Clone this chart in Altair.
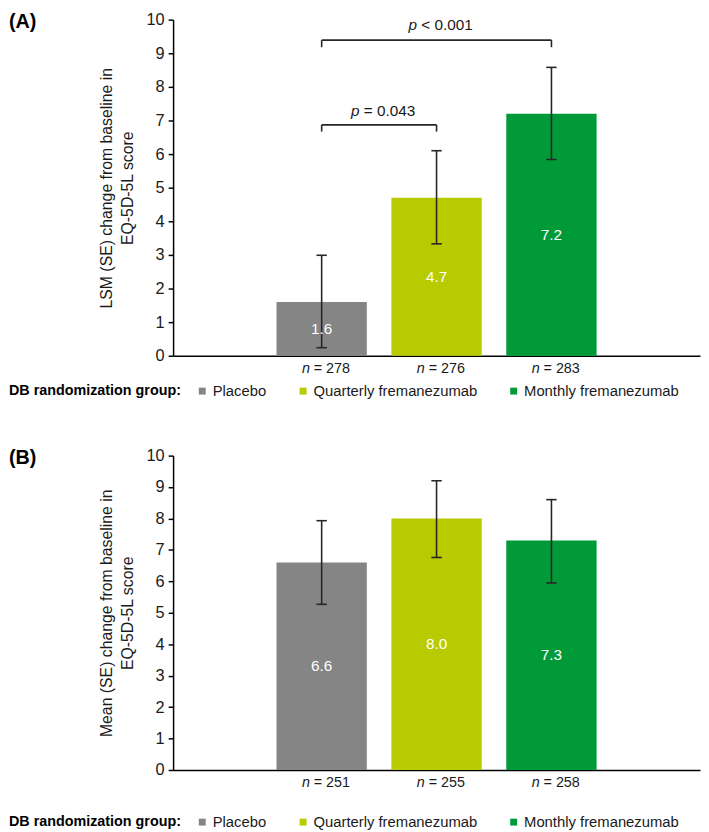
import altair as alt
import pandas as pd

FONT = "Liberation Sans"
INK = "#1a1a1a"

# ---------------- data ----------------
groups = ["Placebo", "Quarterly fremanezumab", "Monthly fremanezumab"]
colors = ["#858585", "#b8ca00", "#009a38"]

a_values = [1.6, 4.7, 7.2]
a_lo = [0.24, 3.33, 5.84]
a_hi = [2.99, 6.10, 8.58]
a_n = [278, 276, 283]
a_ylabel = ["LSM (SE) change from baseline in", "EQ-5D-5L score"]

b_values = [6.6, 8.0, 7.3]
b_lo = [5.27, 6.76, 5.95]
b_hi = [7.93, 9.20, 8.60]
b_n = [251, 255, 258]
b_ylabel = ["Mean (SE) change from baseline in", "EQ-5D-5L score"]

# significance brackets (panel A)
p_text = ["= 0.043", "< 0.001"]
p_from = [0, 0]
p_to = [1, 2]
p_level = [6.87, 9.39]
p_drop = [0.2, 0.21]
p_text_y = [7.12, 9.68]

legend_title = "DB randomization group:"

# ---------------- layout constants ----------------
W = 533
X_MAX = 4.5
OFFSET = 1.25
HALF = 0.393
CAP = 0.045

xs = alt.Scale(domain=[0, X_MAX], nice=False, zero=False)
ys = alt.Scale(domain=[0, 10], nice=False)
x_axis = alt.Axis(labels=False, ticks=False, title=None, grid=False,
                  domainColor="black", domainWidth=1.5)


def y_axis(title):
    return alt.Axis(values=list(range(11)), title=title, grid=False,
                    domainColor="black", domainWidth=1.5, tickColor="black",
                    tickWidth=1.5, tickSize=5, labelFontSize=16.5, labelColor=INK,
                    labelPadding=4, labelFont=FONT, titleFont=FONT, titleFontSize=16,
                    titleFontWeight="normal", titleColor=INK, titlePadding=11,
                    titleLineHeight=21, format="d")


def X(field):
    return alt.X(field, type="quantitative", scale=xs, axis=x_axis)


def Y(field, title):
    return alt.Y(field, type="quantitative", scale=ys, axis=y_axis(title))


def panel(tag, values, lo, hi, ns, ylabel, height, legend_y, brackets=False):
    pos = [i + OFFSET for i in range(len(groups))]
    df = pd.DataFrame({
        "group": groups, "pos": pos, "value": values, "lo": lo, "hi": hi,
        "left": [p - HALF for p in pos], "right": [p + HALF for p in pos],
        "capL": [p - CAP for p in pos], "capR": [p + CAP for p in pos],
        "mid": [v / 2 for v in values],
        "label": [f"{v:.1f}" for v in values],
        "n": ["n"] * len(ns),
        "neq": [f"= {n}" for n in ns],
    })
    base = alt.Chart(df)
    legend = alt.Legend(
        orient="none", legendX=-166, legendY=legend_y, direction="horizontal",
        title=legend_title, titleOrient="left", titleFont=FONT, titleFontSize=14.5,
        titleFontWeight="bold", titleColor="black", titlePadding=14, titleLimit=400,
        titleBaseline="middle", titleAnchor="middle",
        labelFont=FONT, labelFontSize=15, labelColor=INK, labelLimit=400,
        labelOffset=3, symbolType="square", symbolSize=49, symbolStrokeWidth=0,
        columnPadding=29,
    )
    bars = base.mark_bar(orient="vertical").encode(
        x=X("left"), x2="right", y=Y("value", ylabel), y2=alt.datum(0),
        color=alt.Color("group:N", scale=alt.Scale(domain=groups, range=colors),
                        legend=legend),
    )
    err = base.mark_rule(color="#262626", strokeWidth=1.6).encode(
        x=X("pos"), y=Y("lo", ylabel), y2="hi")
    cap_hi = base.mark_rule(color="#262626", strokeWidth=1.6).encode(
        x=X("capL"), x2="capR", y=Y("hi", ylabel))
    cap_lo = base.mark_rule(color="#262626", strokeWidth=1.6).encode(
        x=X("capL"), x2="capR", y=Y("lo", ylabel))
    vlab = base.mark_text(color="white", font=FONT, fontSize=15.5).encode(
        x=X("pos"), y=Y("mid", ylabel), text="label:N")
    n_it = base.mark_text(font=FONT, fontSize=14.5, fontStyle="italic", color=INK,
                          align="left", baseline="middle", dx=-20).encode(
        x=X("pos"), y=alt.value(height + 13), text="n:N")
    n_rest = base.mark_text(font=FONT, fontSize=14.5, color=INK, align="left",
                            baseline="middle", dx=-8).encode(
        x=X("pos"), y=alt.value(height + 13), text="neq:N")
    tag_df = pd.DataFrame({"t": [tag]})
    tag_mark = alt.Chart(tag_df).mark_text(
        font=FONT, fontSize=20, fontWeight="bold", color="black",
        align="left", baseline="top").encode(
        x=alt.value(-166), y=alt.value(-8), text="t:N")
    layers = [bars, err, cap_hi, cap_lo, vlab, n_it, n_rest, tag_mark]

    if brackets:
        bdf = pd.DataFrame({
            "x1": [p_from[i] + OFFSET for i in range(len(p_text))],
            "x2": [p_to[i] + OFFSET for i in range(len(p_text))],
            "mid": [(p_from[i] + p_to[i]) / 2 + OFFSET for i in range(len(p_text))],
            "y": p_level,
            "ylow": [p_level[i] - p_drop[i] for i in range(len(p_text))],
            "ty": p_text_y,
            "p": ["p"] * len(p_text),
            "rest": p_text,
        })
        bb = alt.Chart(bdf)
        layers += [
            bb.mark_rule(color="#262626", strokeWidth=1.6).encode(
                x=X("x1"), x2="x2", y=Y("y", ylabel)),
            bb.mark_rule(color="#262626", strokeWidth=1.6).encode(
                x=X("x1"), y=Y("y", ylabel), y2="ylow"),
            bb.mark_rule(color="#262626", strokeWidth=1.6).encode(
                x=X("x2"), y=Y("y", ylabel), y2="ylow"),
            bb.mark_text(font=FONT, fontSize=15.5, fontStyle="italic", color=INK,
                         align="left", baseline="alphabetic", dx=-28.5).encode(
                x=X("mid"), y=Y("ty", ylabel), text="p:N"),
            bb.mark_text(font=FONT, fontSize=15.5, color=INK, align="left",
                         baseline="alphabetic", dx=-15.5).encode(
                x=X("mid"), y=Y("ty", ylabel), text="rest:N"),
        ]
    return alt.layer(*layers).properties(width=W, height=height)


top = panel("(A)", a_values, a_lo, a_hi, a_n, a_ylabel, 340, 368, brackets=True)
bottom = panel("(B)", b_values, b_lo, b_hi, b_n, b_ylabel, 318, 363)

chart = alt.vconcat(top, bottom, spacing=47).resolve_scale(
    color="independent", y="independent").resolve_legend(
    color="independent").properties(
    padding={"left": 0, "top": -2, "right": 0, "bottom": 0},
    background="white").configure_view(stroke="transparent")

chart.save("out.html", embed_options={"renderer": "svg", "actions": False})
